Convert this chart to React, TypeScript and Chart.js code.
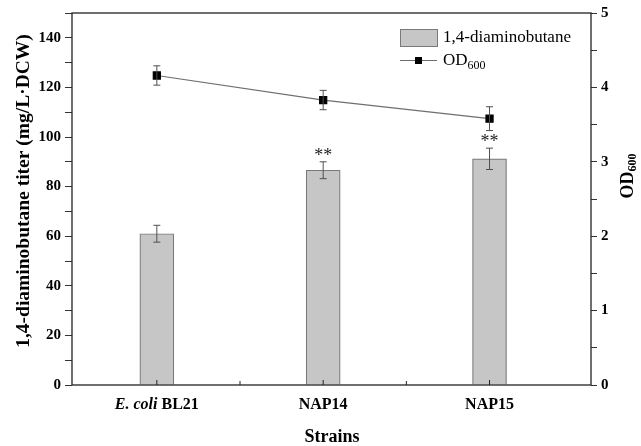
import React, { useEffect, useRef } from "react";
import { Chart, registerables } from "chart.js";

Chart.register(...registerables);

const categories = ["E. coli BL21", "NAP14", "NAP15"];
const italicPrefixes = ["E. coli", "", ""];
const titerValues = [61.0, 86.6, 91.2];
const titerErrors = [3.4, 3.4, 4.3];
const odValues = [4.16, 3.83, 3.58];
const odErrors = [0.13, 0.13, 0.16];
const significance = ["", "**", "**"];
const leftTickValues = [0, 10, 20, 30, 40, 50, 60, 70, 80, 90, 100, 110, 120, 130, 140, 150];
const leftLabelValues = [0, 20, 40, 60, 80, 100, 120, 140];
const rightTickValues = [0, 0.5, 1, 1.5, 2, 2.5, 3, 3.5, 4, 4.5, 5];
const rightLabelValues = [0, 1, 2, 3, 4, 5];
const xMinorTicks = [1.5, 2.5];

const SERIF = "'Liberation Serif', 'Times New Roman', serif";

const overlay = {
  id: "overlay",
  afterDatasetsDraw(chart: any) {
    const ctx = chart.ctx as CanvasRenderingContext2D;
    const xs = chart.scales.x;
    const ys = chart.scales.y;
    const y1 = chart.scales.y1;
    ctx.save();
    ctx.strokeStyle = "#505050";
    ctx.lineWidth = 1;
    const errBar = (px: number, v: number, e: number, s: any) => {
      const t = s.getPixelForValue(v + e);
      const b = s.getPixelForValue(v - e);
      ctx.beginPath();
      ctx.moveTo(px, t);
      ctx.lineTo(px, b);
      ctx.moveTo(px - 3.5, t);
      ctx.lineTo(px + 3.5, t);
      ctx.moveTo(px - 3.5, b);
      ctx.lineTo(px + 3.5, b);
      ctx.stroke();
    };
    categories.forEach((_, i) => {
      const px = xs.getPixelForValue(i + 1);
      errBar(px, titerValues[i], titerErrors[i], ys);
      errBar(px, odValues[i], odErrors[i], y1);
      if (significance[i]) {
        ctx.fillStyle = "#222";
        ctx.font = `18px ${SERIF}`;
        ctx.textAlign = "center";
        ctx.textBaseline = "alphabetic";
        const t = ys.getPixelForValue(titerValues[i] + titerErrors[i]);
        ctx.fillText(significance[i], px, t - 1);
      }
    });
    ctx.restore();
  },
  afterDraw(chart: any) {
    const ctx = chart.ctx as CanvasRenderingContext2D;
    const { left, right, top, bottom } = chart.chartArea;
    const xs = chart.scales.x;
    ctx.save();
    // frame
    ctx.strokeStyle = "#222";
    ctx.lineWidth = 1.3;
    ctx.strokeRect(left, top, right - left, bottom - top);
    // inward bottom ticks
    ctx.lineWidth = 1;
    ctx.beginPath();
    categories.forEach((_, i) => {
      const px = xs.getPixelForValue(i + 1);
      ctx.moveTo(px, bottom);
      ctx.lineTo(px, bottom - 5);
    });
    xMinorTicks.forEach((v) => {
      const px = xs.getPixelForValue(v);
      ctx.moveTo(px, bottom);
      ctx.lineTo(px, bottom - 4);
    });
    ctx.stroke();

    // category labels
    ctx.fillStyle = "#000";
    ctx.textBaseline = "middle";
    categories.forEach((c, i) => {
      const px = xs.getPixelForValue(i + 1);
      const it = italicPrefixes[i];
      const rest = it ? c.slice(it.length) : c;
      ctx.font = `italic bold 16px ${SERIF}`;
      const w1 = it ? ctx.measureText(it).width : 0;
      ctx.font = `bold 16px ${SERIF}`;
      const w2 = ctx.measureText(rest).width;
      let sx = px - (w1 + w2) / 2;
      ctx.textAlign = "left";
      if (it) {
        ctx.font = `italic bold 16px ${SERIF}`;
        ctx.fillText(it, sx, 405);
        sx += w1;
      }
      ctx.font = `bold 16px ${SERIF}`;
      ctx.fillText(rest, sx, 405);
    });

    // x title
    ctx.textAlign = "center";
    ctx.font = `bold 18px ${SERIF}`;
    ctx.fillText("Strains", 332, 437);

    // left title
    ctx.save();
    ctx.translate(24, 191);
    ctx.rotate(-Math.PI / 2);
    ctx.font = `bold 19.5px ${SERIF}`;
    ctx.textAlign = "center";
    ctx.fillText("1,4-diaminobutane titer (mg/L\u00B7DCW)", 0, 0);
    ctx.restore();

    // right title OD600
    ctx.save();
    ctx.translate(628, 176);
    ctx.rotate(-Math.PI / 2);
    ctx.font = `bold 18px ${SERIF}`;
    const wOD = ctx.measureText("OD").width;
    ctx.font = `bold 12px ${SERIF}`;
    const wSub = ctx.measureText("600").width;
    const start = -(wOD + wSub) / 2;
    ctx.textAlign = "left";
    ctx.font = `bold 18px ${SERIF}`;
    ctx.fillText("OD", start, 0);
    ctx.font = `bold 12px ${SERIF}`;
    ctx.fillText("600", start + wOD, 5);
    ctx.restore();

    // legend
    ctx.fillStyle = "#c6c6c6";
    ctx.strokeStyle = "#7a7a7a";
    ctx.lineWidth = 1;
    ctx.fillRect(400, 29, 37, 17);
    ctx.strokeRect(400.5, 29.5, 37, 17);
    ctx.strokeStyle = "#6e6e6e";
    ctx.beginPath();
    ctx.moveTo(400, 60.5);
    ctx.lineTo(437, 60.5);
    ctx.stroke();
    ctx.fillStyle = "#000";
    ctx.fillRect(415, 57, 7, 7);
    ctx.textAlign = "left";
    ctx.textBaseline = "middle";
    ctx.font = `17px ${SERIF}`;
    ctx.fillText("1,4-diaminobutane", 443, 38);
    ctx.fillText("OD", 443, 61);
    const wO = ctx.measureText("OD").width;
    ctx.font = `12px ${SERIF}`;
    ctx.fillText("600", 443 + wO, 66);
    ctx.restore();
  },
};

export default function App() {
  const ref = useRef<HTMLCanvasElement | null>(null);
  useEffect(() => {
    document.body.style.margin = "0";
    if (!ref.current) return;
    const chart = new Chart(ref.current, {
      type: "bar",
      data: {
        datasets: [
          {
            type: "line",
            label: "OD600",
            data: odValues.map((v, i) => ({ x: i + 1, y: v })),
            yAxisID: "y1",
            xAxisID: "x",
            borderColor: "#6e6e6e",
            borderWidth: 1.2,
            pointStyle: "rect",
            pointRadius: 5,
            pointBackgroundColor: "#000",
            pointBorderColor: "#000",
            order: 0,
          } as any,
          {
            type: "bar",
            label: "1,4-diaminobutane",
            data: titerValues.map((v, i) => ({ x: i + 1, y: v })),
            yAxisID: "y",
            xAxisID: "x",
            backgroundColor: "#c6c6c6",
            borderColor: "#7a7a7a",
            borderWidth: 1.2,
            barThickness: 34,
            order: 1,
          } as any,
        ],
      },
      options: {
        responsive: false,
        animation: false,
        events: [],
        layout: { padding: { top: 13, left: 0, right: 0, bottom: 0 } },
        plugins: { legend: { display: false }, tooltip: { enabled: false } },
        scales: {
          x: {
            type: "linear",
            min: 0.49,
            max: 3.61,
            offset: false,
            grid: { display: false, offset: false },
            border: { display: false },
            ticks: { display: false },
            afterBuildTicks: (s: any) => {
              s.ticks = categories.map((_, i) => ({ value: i + 1 }));
            },
            afterFit: (s: any) => {
              s.height = 61;
            },
          },
          y: {
            type: "linear",
            position: "left",
            min: 0,
            max: 150,
            border: { display: false },
            grid: { drawOnChartArea: false, drawTicks: true, tickLength: 7, color: "#333", lineWidth: 1 },
            afterBuildTicks: (s: any) => {
              s.ticks = leftTickValues.map((v) => ({ value: v }));
            },
            ticks: {
              padding: 4,
              color: "#000",
              font: { family: SERIF, weight: "bold", size: 15 },
              callback: (v: any) => (leftLabelValues.includes(Number(v)) ? String(v) : ""),
            },
            afterFit: (s: any) => {
              s.width = 72;
            },
          },
          y1: {
            type: "linear",
            position: "right",
            min: 0,
            max: 5,
            border: { display: false },
            grid: { drawOnChartArea: false, drawTicks: true, tickLength: 6, color: "#333", lineWidth: 1 },
            afterBuildTicks: (s: any) => {
              s.ticks = rightTickValues.map((v) => ({ value: v }));
            },
            ticks: {
              padding: 4,
              color: "#000",
              font: { family: SERIF, weight: "bold", size: 15 },
              callback: (v: any) => (rightLabelValues.includes(Number(v)) ? String(v) : ""),
            },
            afterFit: (s: any) => {
              s.width = 50;
            },
          },
        },
      } as any,
      plugins: [overlay],
    });
    return () => chart.destroy();
  }, []);
  return (
    <div style={{ width: 641, height: 446 }}>
      <canvas ref={ref} width={641} height={446} style={{ display: "block" }} />
    </div>
  );
}
